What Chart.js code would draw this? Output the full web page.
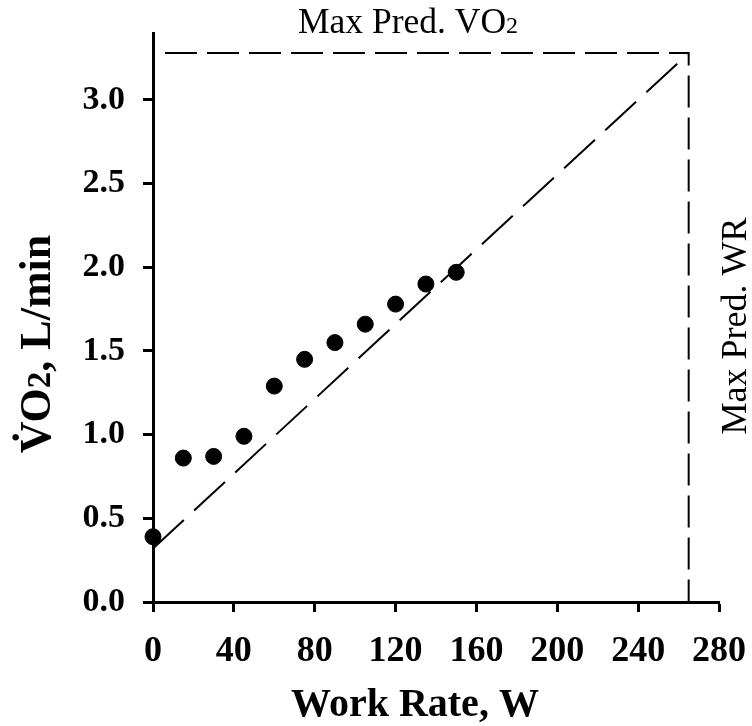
<!DOCTYPE html>
<html><head><meta charset="utf-8">
<script src="https://cdn.jsdelivr.net/npm/chart.js@4/dist/chart.umd.min.js"></script>
<style>html,body{margin:0;padding:0;background:#fff;}canvas{display:block;}</style>
</head><body>
<canvas id="c" width="752" height="726"></canvas>
<script>
// ---- data ----
const workRate = [0, 15, 30, 45, 60, 75, 90, 105, 120, 135, 150];
const vo2 = [0.39, 0.86, 0.87, 0.99, 1.29, 1.45, 1.55, 1.66, 1.78, 1.90, 1.97];
const predLineWR = [0, 265];
const predLineVO2 = [0.32, 3.28];
const maxPredVO2 = 3.28;
const maxPredWR = 265;
const xTicks = [0, 40, 80, 120, 160, 200, 240, 280];
const yTicks = [0.0, 0.5, 1.0, 1.5, 2.0, 2.5, 3.0];
const xRange = [0, 280];
const yRange = [0, 3.4];
const xTitle = 'Work Rate, W';
const yTitle = ['V\u0307O', '2', ', L/min'];
const topLabel = ['Max Pred. VO', '2'];
const rightLabel = 'Max Pred. WR';

const SERIF = '"Liberation Serif", "Times New Roman", serif';

function drawParts(ctx, parts, fonts, cx, cy) {
  const widths = parts.map((p, i) => { ctx.font = fonts[i]; return ctx.measureText(p).width; });
  const total = widths.reduce((s, w) => s + w, 0);
  let x = cx - total / 2;
  ctx.textAlign = 'left';
  ctx.textBaseline = 'alphabetic';
  parts.forEach((p, i) => { ctx.font = fonts[i]; ctx.fillText(p, x, cy); x += widths[i]; });
}

const labelPlugin = {
  id: 'labels',
  afterDraw(chart) {
    const ctx = chart.ctx;
    ctx.save();
    ctx.fillStyle = '#000';
    // top label
    drawParts(ctx, topLabel, ['35.5px ' + SERIF, '24px ' + SERIF], 408, 33);
    // right label
    ctx.save();
    ctx.translate(746, 326);
    ctx.rotate(-Math.PI / 2);
    ctx.font = '36px ' + SERIF;
    ctx.textAlign = 'center';
    ctx.textBaseline = 'alphabetic';
    ctx.fillText(rightLabel, 0, 0);
    ctx.restore();
    // y title
    ctx.save();
    ctx.translate(50, 344);
    ctx.rotate(-Math.PI / 2);
    const yf = 'bold 44px ' + SERIF;
    drawParts(ctx, yTitle, [yf, 'bold 33px ' + SERIF, yf], 0, 0);
    ctx.restore();
    // x title
    ctx.font = 'bold 40px ' + SERIF;
    ctx.textAlign = 'center';
    ctx.textBaseline = 'alphabetic';
    ctx.fillText(xTitle, 415, 716);
    ctx.restore();
  }
};

new Chart(document.getElementById('c'), {
  type: 'scatter',
  data: {
    datasets: [
      {
        data: workRate.map((x, i) => ({x, y: vo2[i]})),
        backgroundColor: '#000', borderColor: '#000',
        pointRadius: 8, pointHoverRadius: 8, clip: false
      },
      {
        data: predLineWR.map((x, i) => ({x, y: predLineVO2[i]})),
        showLine: true, borderColor: '#000', borderWidth: 2,
        borderDash: [42, 14], pointRadius: 0, clip: false
      },
      {
        data: [{x: 0, y: maxPredVO2}, {x: maxPredWR, y: maxPredVO2}, {x: maxPredWR, y: 0}],
        showLine: true, borderColor: '#000', borderWidth: 2,
        borderDash: [32, 10], borderDashOffset: 30, pointRadius: 0, clip: false
      }
    ]
  },
  options: {
    responsive: false, animation: false, devicePixelRatio: 1,
    layout: {padding: {left: 0, right: 33, top: 33, bottom: 0}},
    plugins: {legend: {display: false}, tooltip: {enabled: false}},
    scales: {
      x: {
        type: 'linear', min: xRange[0], max: xRange[1],
        afterFit(s) { s.height = 124; s.paddingLeft = 0; s.paddingRight = 0; },
        afterBuildTicks(s) { s.ticks = xTicks.map(v => ({value: v})); },
        border: {display: true, color: '#000', width: 3},
        grid: {drawOnChartArea: false, drawTicks: true, tickLength: 10, tickColor: '#000', tickWidth: 3},
        ticks: {color: '#000', padding: 18, maxRotation: 0, autoSkip: false,
          font: {family: SERIF, size: 36, weight: 'bold'}}
      },
      y: {
        type: 'linear', min: yRange[0], max: yRange[1],
        afterFit(s) { s.width = 153; s.paddingTop = 0; s.paddingBottom = 0; },
        afterBuildTicks(s) { s.ticks = yTicks.map(v => ({value: v})); },
        border: {display: true, color: '#000', width: 3},
        grid: {drawOnChartArea: false, drawTicks: true, tickLength: 10, tickColor: '#000', tickWidth: 3},
        ticks: {color: '#000', padding: 18, autoSkip: false,
          callback: v => Number(v).toFixed(1),
          font: {family: SERIF, size: 34, weight: 'bold'}}
      }
    }
  },
  plugins: [labelPlugin]
});
</script>
</body></html>
